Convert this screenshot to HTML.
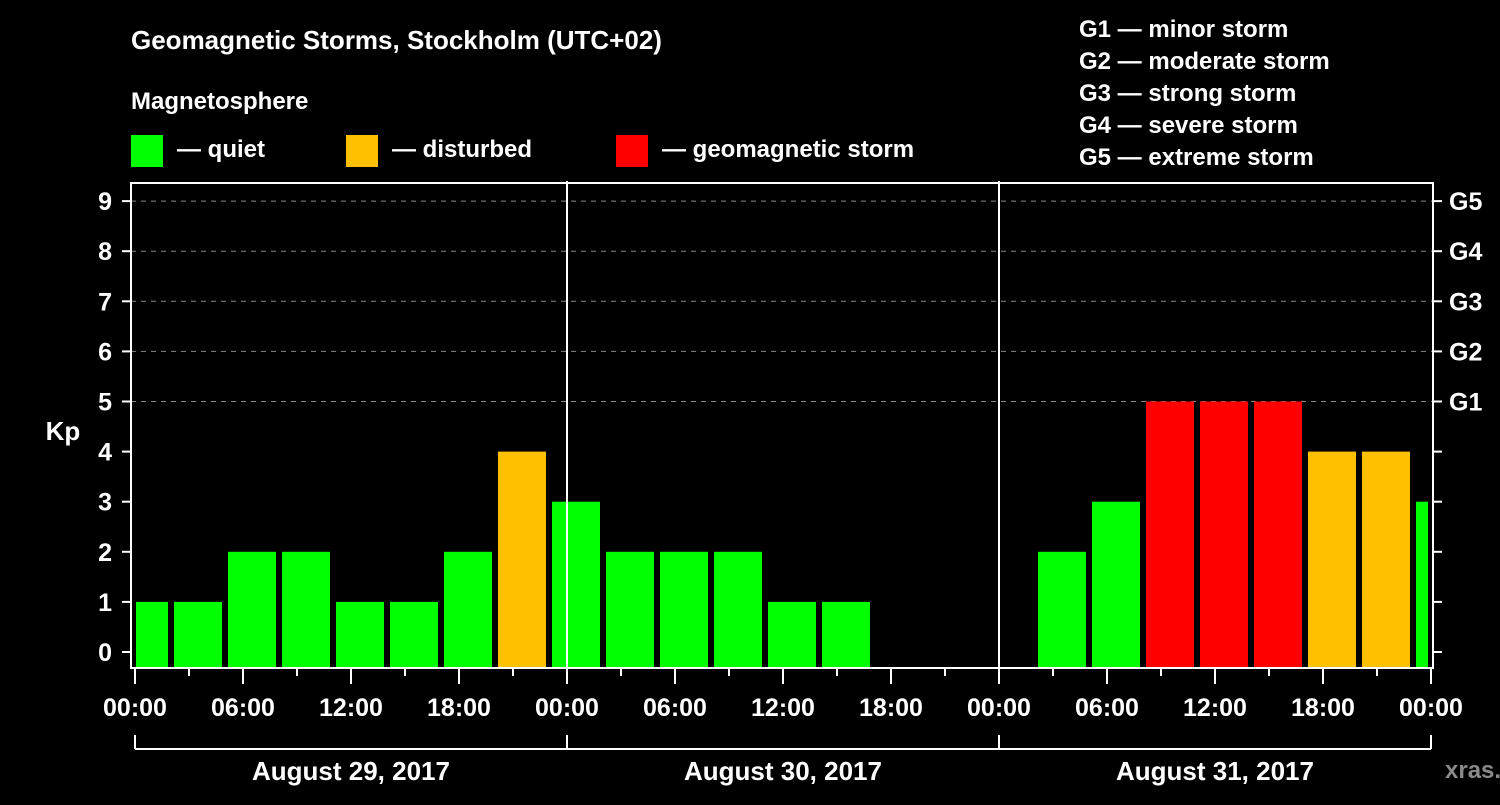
<!DOCTYPE html>
<html><head><meta charset="utf-8"><style>
body{margin:0;background:#000;width:1500px;height:800px;overflow:hidden}
svg text{font-family:"Liberation Sans",sans-serif;font-weight:bold;fill:#fff}
</style></head><body>
<svg id="c" width="1500" height="800">
<text x="131" y="49" font-size="26">Geomagnetic Storms, Stockholm (UTC+02)</text>
<text x="131" y="109" font-size="24">Magnetosphere</text>
<rect x="131" y="135" width="32" height="32" fill="#00ff00"/>
<text x="177" y="157" font-size="24">— quiet</text>
<rect x="346" y="135" width="32" height="32" fill="#ffc000"/>
<text x="392" y="157" font-size="24">— disturbed</text>
<rect x="616" y="135" width="32" height="32" fill="#ff0000"/>
<text x="662" y="157" font-size="24">— geomagnetic storm</text>
<g font-size="24">
<text x="1079" y="37">G1 — minor storm</text>
<text x="1079" y="69">G2 — moderate storm</text>
<text x="1079" y="101">G3 — strong storm</text>
<text x="1079" y="133">G4 — severe storm</text>
<text x="1079" y="165">G5 — extreme storm</text>
</g>
<text x="63" y="440" font-size="26" text-anchor="middle">Kp</text>
<text x="1445" y="778" font-size="24" fill="#888" style="fill:#8a8a8a">xras.ru</text>
<g id="marks"></g>
</svg>
<script>
const days = ["August 29, 2017","August 30, 2017","August 31, 2017"];
const hourLabels = ["00:00","06:00","12:00","18:00"];
const gLabels = ["G1","G2","G3","G4","G5"];
// Kp per 3h UTC interval; local time (UTC+2) start hour = -1 + 3*i relative to Aug 29 00:00
const kpValues = [1,1,2,2,1,1,2,4, 3,2,2,2,1,1,null,null, null,2,3,5,5,5,4,4, 3];
const NS="http://www.w3.org/2000/svg";
const g=document.getElementById('marks');
const L=131,R=1433,T=183,B=668;
const x0=135, pxH=18;
const xs=h=>x0+h*pxH;
const ys=k=>652-k*50.1;
function el(t,a,p){const e=document.createElementNS(NS,t);for(const k in a)e.setAttribute(k,a[k]);(p||g).appendChild(e);return e;}
// grid
for(let k=5;k<=9;k++){
 const ln=el('line',{x1:L,x2:R,y1:ys(k),y2:ys(k),stroke:'#888','stroke-dasharray':'5,5','stroke-width':1});
 
 
}
// bars
kpValues.forEach((v,i)=>{
 if(v===null)return;
 const c=(-1+3*i)+1.5;
 let a=xs(c)-24,b=xs(c)+24;
 a=Math.max(a,136);b=Math.min(b,1428);
 const col=v>=5?'#ff0000':(v>=4?'#ffc000':'#00ff00');
 const r=el('rect',{x:a,y:ys(v),width:b-a,height:B-1-ys(v),fill:col});
 
 
});
// frame
const fr=el('rect',{x:L,y:T,width:R-L,height:B-T,fill:'none',stroke:'#fff','stroke-width':2});


[1,2].forEach(d=>{
 const ln=el('line',{x1:xs(24*d),x2:xs(24*d),y1:181,y2:B,stroke:'#fff','stroke-width':2});
 
 
});
// y ticks
for(let k=0;k<=9;k++){
 el('line',{x1:122,x2:L,y1:ys(k),y2:ys(k),stroke:'#fff','stroke-width':2});
 el('line',{x1:R,x2:1442,y1:ys(k),y2:ys(k),stroke:'#fff','stroke-width':2});
 const t=el('text',{x:112,y:ys(k)+9,'font-size':25,'text-anchor':'end'});
 t.textContent=k;
 
 
}
gLabels.forEach((s,i)=>{
 const t=el('text',{x:1449,y:ys(5+i)+9,'font-size':25});
 t.textContent=s;
 
 
});
// x ticks
for(let h=0;h<=72;h+=3){
 const major=h%6===0;
 el('line',{x1:xs(h),x2:xs(h),y1:B,y2:B+(major?16:8),stroke:'#fff','stroke-width':2});
 if(h%6===0 && h%24!==0 || h%24===0){
  if(h%6===0){
   const t=el('text',{x:xs(h),y:716,'font-size':25,'text-anchor':'middle'});
   t.textContent=hourLabels[(h%24)/6];
   
   
  }
 }
}
// day bracket
el('line',{x1:xs(0),x2:xs(72),y1:749,y2:749,stroke:'#fff','stroke-width':2});
for(let d=0;d<=3;d++)el('line',{x1:xs(24*d),x2:xs(24*d),y1:735,y2:749,stroke:'#fff','stroke-width':2});
days.forEach((s,d)=>{
 const t=el('text',{x:xs(24*d+12),y:780,'font-size':26,'text-anchor':'middle'});
 t.textContent=s;
 
 
});
</script>
</body></html>
